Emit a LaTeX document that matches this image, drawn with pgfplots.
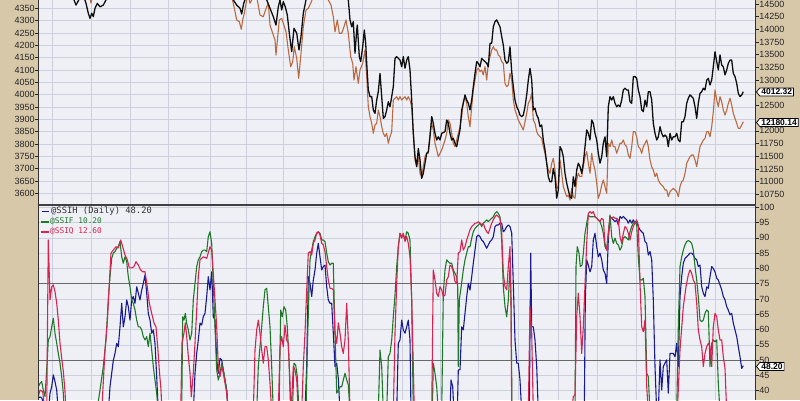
\documentclass[border=0pt]{standalone}
\usepackage{pgfplots}
\pgfplotsset{compat=1.18}
\usepackage{fontspec}
\setmainfont{Liberation Sans}
\newfontfamily\legmono{DejaVu Sans Mono}
\usetikzlibrary{shapes.symbols}
\definecolor{tanbg}{RGB}{216,200,170}
\definecolor{plotbg}{RGB}{238,240,246}
\definecolor{gridc}{RGB}{204,208,220}
\definecolor{darkgrid}{RGB}{105,105,105}
\definecolor{brownl}{RGB}{186,106,66}
\definecolor{blackl}{RGB}{15,15,15}
\definecolor{bluel}{RGB}{25,25,145}
\definecolor{greenl}{RGB}{30,120,40}
\definecolor{redl}{RGB}{214,35,80}
\pgfplotsset{
  base/.style={
    scale only axis, anchor=south west,
    xmin=38.5, xmax=755.5,
    axis line style={draw=none},
    xtick={52,91,130,168,210,246,283,323,362,402,440,478,518,558,597,636,675,715},
    xticklabels={}, xtick style={draw=none},
    scaled y ticks=false,
    tick align=outside, major tick length=3pt,
    ytick style={draw=black!85, line width=0.6pt},
    /pgf/number format/assume math mode=true,
    /pgf/number format/1000 sep={},
    yticklabel style={font=\fontsize{9}{10}\selectfont, text=black!85, inner sep=0.6pt},
    grid style={draw=gridc, line width=0.6pt},
    no markers,
    every axis plot/.append style={line join=round},
  },
}
\tikzset{
  tag/.style={signal, signal to=west, signal pointer angle=100, draw=black, line width=0.7pt,
    fill=white, inner xsep=1.5pt, inner ysep=1pt, font=\bfseries\fontsize{8.5}{9}\selectfont},
}
\begin{document}
\begin{tikzpicture}
\useasboundingbox (0pt,0pt) rectangle (800pt,400pt);
\fill[tanbg] (0pt,0pt) rectangle (800pt,400pt);

% ---------- top panel: grid and left scale ----------
\begin{axis}[base, at={(38.5pt,195pt)}, width=717pt, height=205pt,
  ymin=3552.6, ymax=4383.6, ytick={3600,3650,...,4350}, ytick pos=left, yticklabel pos=left,
  xmajorgrids, ymajorgrids, axis background/.style={fill=plotbg}]
\addplot[draw=none] coordinates {(38.5,3600)};
\end{axis}

% ---------- top panel: brown series (right scale) ----------
\begin{axis}[base, at={(38.5pt,195pt)}, width=717pt, height=205pt,
  ymin=10539, ymax=14578.8,
  ytick={10750,11000,11250,11500,11750,12000,12500,13000,13250,13500,13750,14000,14250,14500},
  ytick pos=right, yticklabel pos=right]
\addplot[brownl, line width=1.1pt] coordinates {
(38.5,14700) (89,14700) (91,14520) (93,14700) (231,14700) (233.3,14514) (236.7,14185) (239.3,14151) (241.3,14001) (242.7,14185) (244.3,14317) (246.7,14579) (248,14700) (249,14600) (250,14514) (251.7,14579) (253,14700) (256,14700) (257.3,14579) (260,14283) (263.3,14250) (266.7,14447) (268.3,14514) (270,14086) (272.7,13923) (275,13791) (276,13495) (277.7,13856) (279.3,14185) (281.7,14218) (283.3,14120) (286,13954) (288.3,13594) (290.7,13264) (292.7,13363) (294.3,13659) (296.7,13430) (298.7,13036) (301,13528) (303.3,14053) (306,14382) (308.3,14415) (310.7,14514) (312,14579) (314,14700) (326,14700) (328.3,14579) (331,14480) (333.3,14250) (335,13954) (337.3,14185) (339.3,13923) (341.7,13923) (344,14053) (346,14185) (348.3,13923) (350.7,13462) (352.7,13331) (354,13002) (356,13264) (358.3,12937) (360,13199) (362.7,13331) (365,13594) (366.7,13067) (368.3,12476) (370,12279) (371.7,12149) (373.3,11952) (375,12116) (376.7,12149) (378.3,12411) (380,12279) (381.7,12082) (383.3,11952) (385,11885) (386.7,11952) (388.3,11755) (390,11885) (391.7,11984) (393.3,12608) (395,12642) (396.7,12673) (398.3,12608) (400,12673) (401.7,12608) (403.3,12642) (405,12673) (406.7,12608) (408.3,12673) (410,12608) (411.7,12476) (413.3,11952) (415,11426) (416.7,11294) (418.3,11491) (420,11164) (421.7,11097) (423.3,11294) (425,11491) (426.7,11558) (428.3,11558) (430,11952) (431.7,12149) (433.3,12017) (435,11755) (436.7,11623) (438.3,11491) (440,11558) (441.7,11623) (445,11820) (446.7,11952) (448.3,12214) (450,12149) (451.7,11952) (453.3,11755) (455,11688) (456.7,11820) (458.3,11952) (460,12082) (461.7,12279) (463.3,12575) (465,12673) (466.7,12543) (468.3,12279) (470,12082) (471.7,12476) (473.3,12805) (475,13002) (476.7,13199) (478.3,13233) (480,13166) (481.7,13199) (483.3,13101) (485,13264) (486.7,13002) (488.3,13331) (490,13462) (491.7,13594) (493.3,13659) (495,13594) (496.7,13594) (498.3,13495) (500,13462) (501.7,13363) (503.3,13331) (505,12937) (506.7,12871) (508.3,12904) (510,13134) (511.7,13002) (513.3,12608) (515,12411) (516.7,12313) (518.3,12214) (520,12149) (521.7,12082) (523.3,12017) (525,12181) (526.7,12346) (528.3,12543) (530,12608) (531.7,12740) (533.3,12214) (535,12149) (536.7,11984) (538.3,11919) (540,11885) (541.7,11854) (543.3,11688) (545,11558) (546.7,11361) (548.3,11229) (550,11164) (551.7,11361) (553.3,11459) (555,11229) (556.7,10868) (558.3,10900) (560,11426) (561.7,11164) (563.3,10900) (565,10801) (566.7,10703) (568.3,10736) (570,10638) (571.7,10868) (573.3,10703) (575,10671) (576.7,11032) (578.3,11164) (580,11097) (581.7,11097) (583.3,11294) (585,11491) (586.7,11590) (588.3,11361) (590,11164) (591.7,11558) (593.3,11361) (595,11229) (596.7,10967) (598.3,10671) (600,10770) (601.7,10933) (603.3,11032) (605,10900) (606.7,10770) (608.3,11755) (610,11688) (611.7,11820) (613.3,11688) (615,11688) (616.7,11558) (618.3,11656) (620,11755) (621.7,11755) (623.3,11820) (625,11722) (626.7,11688) (628.3,11524) (630,11459) (631.7,11688) (633.3,11984) (635,11984) (636.7,11885) (638.3,11688) (640,11656) (641.7,11558) (643.3,11688) (645,11755) (646.7,11820) (648.3,11688) (650,11426) (651.7,11294) (653.3,11229) (655,11097) (656.7,11164) (658.3,11032) (660,10967) (661.7,10933) (663.3,10900) (665,10835) (666.7,10835) (668.3,10703) (670,10801) (671.7,10835) (673.3,10868) (675,10835) (676.7,10801) (678.3,10703) (680,10900) (681.7,10999) (683.3,11032) (685,11164) (686.7,11361) (688.3,11426) (690,11491) (691.7,11524) (693.3,11524) (695,11426) (696.7,11294) (698.3,11491) (700,11688) (701.7,11755) (703.3,11820) (705,11854) (706.7,11984) (708.3,11984) (710,11885) (711.7,12082) (713.3,12378) (715,12805) (716.7,12608) (718.3,12476) (720,12673) (721.7,12575) (723.3,12411) (725,12313) (726.7,12411) (728.3,12543) (730,12642) (731.7,12510) (733.3,12346) (735,12247) (736.7,12149) (738.3,12050) (740,12050) (741.7,12116) (743.3,12180)
};
\end{axis}

% ---------- top panel: black series (left scale) ----------
\begin{axis}[base, at={(38.5pt,195pt)}, width=717pt, height=205pt,
  ymin=3552.6, ymax=4383.6, ytick=\empty]
\addplot[blackl, line width=1.3pt] coordinates {
(38.5,4420) (72,4420) (74,4384) (76,4363) (78,4378) (80,4395) (84,4395) (86,4370) (88.3,4330) (90,4309) (91.7,4330) (93.3,4316) (95,4350) (97.3,4370) (100,4356) (103.3,4363) (106,4384) (108,4420) (231,4420) (233.3,4384) (236.7,4363) (240,4350) (241.7,4327) (243.7,4370) (245,4384) (247,4420) (265,4420) (266.7,4384) (270,4350) (273.3,4316) (276,4282) (278.3,4356) (280,4384) (281.7,4343) (283.3,4377) (285.3,4356) (287.3,4323) (289.3,4249) (291.7,4174) (294,4269) (296.7,4249) (299,4181) (301,4235) (303.3,4330) (306,4384) (308,4420) (346,4420) (348.3,4384) (350,4303) (351.7,4275) (353.3,4296) (355,4168) (356.7,4262) (357.3,4282) (359.3,4154) (360.7,4134) (362.7,4194) (364.3,4262) (365.7,4208) (366.7,4127) (368.3,4019) (370,3992) (371.7,3992) (373.3,3938) (375,3924) (376.7,3978) (378.3,4012) (380,4086) (381.7,3992) (383.3,3904) (385,3911) (386.7,3938) (388.3,3971) (390,3951) (391.7,3992) (393.3,4032) (395,4147) (396.7,4154) (400,4140) (401.7,4113) (403.3,4154) (405,4107) (406.7,4140) (408.3,4154) (410,4100) (411.7,3978) (413.3,3843) (415,3748) (416.7,3708) (418.3,3782) (420,3735) (421.7,3661) (423.3,3681) (425,3722) (426.7,3762) (428.3,3769) (430,3829) (431.7,3911) (433.3,3884) (435,3843) (436.7,3816) (438.3,3829) (440,3816) (441.7,3843) (445,3850) (446.7,3897) (448.3,3884) (450,3843) (451.7,3816) (453.3,3823) (455,3803) (456.7,3789) (458.3,3823) (460,3857) (461.7,3938) (463.3,3965) (465,3999) (466.7,3978) (468.3,3965) (470,3938) (471.7,3978) (473.3,4032) (475,4086) (476.7,4134) (478.3,4127) (480,4113) (481.7,4147) (483.3,4140) (485,4134) (486.7,4127) (488.3,4113) (490,4208) (491.7,4208) (493.3,4275) (495,4296) (496.7,4303) (498.3,4289) (500,4275) (501.7,4235) (503.3,4201) (505,4140) (506.7,4127) (508.3,4134) (510,4194) (511.7,4093) (513.3,4032) (515,3978) (516.7,3951) (518.3,3938) (520,3917) (521.7,3911) (523.3,3917) (525,3951) (526.7,3999) (528.3,4059) (530,4107) (531.7,4059) (533.3,3938) (535,3945) (536.7,3917) (538.3,3904) (540,3870) (541.7,3877) (543.3,3816) (545,3776) (546.7,3722) (548.3,3667) (550,3647) (551.7,3647) (553.3,3701) (555,3667) (556.7,3580) (558.3,3613) (560,3789) (561.7,3776) (563.3,3748) (565,3681) (566.7,3641) (568.3,3613) (570,3586) (571.7,3580) (573.3,3667) (575,3627) (576.7,3694) (578.3,3722) (580,3708) (581.7,3681) (583.3,3722) (585,3789) (586.7,3857) (588.3,3843) (590,3816) (591.7,3897) (593.3,3884) (595,3843) (596.7,3816) (598.3,3762) (600,3722) (601.7,3748) (603.3,3803) (605,3829) (606.7,3748) (608.3,3951) (610,3992) (611.7,3978) (613.3,3992) (615,3965) (616.7,3951) (618.3,3958) (620,3951) (621.7,3978) (623.3,4019) (625,4026) (626.7,4019) (628.3,4019) (630,3971) (631.7,3965) (633.3,4073) (635,4073) (636.7,4066) (638.3,4019) (640,3992) (641.7,3938) (643.3,3931) (645,3978) (646.7,3951) (648.3,4012) (650,4012) (651.7,3978) (653.3,3884) (655,3843) (656.7,3816) (658.3,3829) (660,3870) (661.7,3843) (663.3,3829) (665,3836) (666.7,3829) (668.3,3789) (670,3843) (671.7,3816) (673.3,3829) (675,3829) (676.7,3843) (678.3,3816) (680,3809) (681.7,3890) (683.3,3890) (685,3911) (686.7,3965) (688.3,3985) (690,3999) (691.7,3992) (693.3,3985) (695,3951) (696.7,3904) (698.3,3965) (700,4005) (701.7,4012) (703.3,4026) (705,4019) (706.7,4059) (708.3,4066) (710,4039) (711.7,4059) (713.3,4113) (715,4174) (716.7,4134) (718.3,4100) (720,4161) (721.7,4120) (723.3,4113) (725,4080) (726.7,4100) (728.3,4127) (730,4140) (731.7,4140) (733.3,4086) (735,4073) (736.7,4046) (738.3,4005) (740,3992) (741.7,3999) (743.3,4012)
};
\end{axis}

% ---------- bottom panel ----------
\begin{axis}[base, at={(38.5pt,0pt)}, width=717pt, height=195pt,
  ymin=36.96, ymax=100.75, ytick={40,45,...,100}, ytick pos=right, yticklabel pos=right,
  xmajorgrids, ymajorgrids, axis background/.style={fill=plotbg}]
\draw[darkgrid, line width=0.9pt] (axis cs:38.5,50) -- (axis cs:755.5,50);
\draw[darkgrid, line width=0.9pt] (axis cs:38.5,75) -- (axis cs:755.5,75);
\addplot[bluel, line width=1.1pt] coordinates {
(38.3,37.5) (40,38) (42,37.5) (45,33) (48.5,33) (50,39.2) (51.7,41.3) (53.3,45.2) (55,43) (56.7,40.2) (58.3,33) (108.3,33) (110,41.3) (111.7,45.7) (113.3,49.9) (115,52.2) (116.7,55.5) (118.3,54.4) (120,60.9) (121.7,68.6) (123.3,60.9) (125,64.2) (126.7,69.7) (128.3,67.5) (130,63.1) (131.7,69.7) (133.3,70.8) (135,68.6) (136.7,74) (138.3,71.9) (140,69.7) (141.7,72.9) (143.3,75.1) (145,77.9) (146.7,71.9) (148.3,65.3) (150,63.1) (151.7,58.8) (153.3,59.9) (155,55.5) (156.7,44.6) (158.3,33) (193.3,33) (195,45.7) (196.7,52.2) (198.3,56.6) (200,62.1) (201.7,61.5) (203.3,64.2) (205,65.3) (206.7,70.8) (208.3,77.3) (210,73) (211.7,78.9) (213.3,64.2) (215,63.1) (216.7,50.1) (218.3,45.7) (220,50.6) (221.7,50.1) (223.3,46.8) (225,43.5) (226.7,40.2) (228.3,33) (305,33) (306.7,47.9) (308.3,77.3) (310,75.1) (311.7,70.8) (313.3,76.2) (315,79.5) (316.7,85) (318.3,88.2) (320,83.8) (321.7,79.5) (323.3,80.6) (325,81.1) (326.7,74) (328.3,69.7) (330,68.6) (331.7,68.6) (333.3,58.8) (335,47.9) (336.7,49) (338.3,44) (340,33) (396.7,33) (398.3,55.5) (400,56.6) (401.7,63.1) (403.3,59.9) (405,58.8) (406.7,60.9) (408.3,63.1) (410,56.6) (411,33) (450,33) (451,43.5) (452.7,41.3) (454,33) (457.3,33) (458.3,46.8) (460,46.8) (461.7,60.9) (463.3,59.9) (465,65.3) (466.7,70.8) (468.3,75.1) (470,72.9) (471.7,77.3) (473.3,81.7) (475,86) (476.7,90.4) (478.3,90.9) (480,90.4) (481.7,89.3) (483.3,88.8) (485,87.7) (486.7,86.6) (488.3,87.7) (490,88.8) (491.7,89.3) (493.3,90.4) (495,93.7) (496.7,94.2) (498.3,94.2) (500,94.8) (501.7,94.8) (503.3,92) (505,92.6) (506.7,93.7) (508.3,94.2) (510,93.7) (511.7,91.5) (513.3,75.1) (515,56.6) (516.7,49) (518.3,49) (520,43.5) (521.7,33) (529.3,33) (530.7,85) (531.7,60.9) (533.3,60.9) (535,56.6) (536.7,47.9) (538.3,33) (584.3,33) (585.3,69.7) (586.7,82.8) (588.3,81.1) (590,78.9) (591.7,80.6) (593.3,89.3) (595,91.5) (596.7,87.1) (598.3,83.8) (600,85) (601.7,82.8) (603.3,79.5) (605,78.4) (606.7,75.1) (608.3,89.3) (610,97) (611.7,96.4) (613.3,95.9) (615,95.3) (616.7,95.9) (618.3,94.2) (620,97) (621.7,96.4) (623.3,97) (625,96.4) (626.7,95.9) (628.3,94.8) (630,95.9) (631.7,94.8) (633.3,95.9) (635,94.8) (636.7,95.3) (638.3,93.7) (640,92.6) (641.7,92) (643.3,91.5) (645,88.8) (646.7,88.2) (648.3,84.4) (650,85.5) (651.7,82.8) (653.3,69.7) (655,47.9) (656.7,33) (658.3,33) (660,50.1) (661.7,40.2) (663.3,47.9) (665,49) (666.7,50.1) (668.3,39.2) (670,52.2) (671.7,52.2) (673.3,52.2) (675,51.1) (676.7,55.5) (678.3,47.9) (680,70.8) (681.7,77.3) (683.3,81.7) (685,83.3) (686.7,83.8) (688.3,84.4) (690,85) (691.7,85) (693.3,84.4) (695,83.3) (696.7,82.8) (698.3,80.6) (700,81.1) (701.7,74) (703.3,71.9) (705,70.8) (706.7,74) (708.3,73.5) (710,77.3) (711.7,80.6) (713.3,80) (715,78.9) (716.7,76.8) (718.3,76.2) (720,74.6) (721.7,73) (723.3,70.8) (725,69.7) (726.7,67.5) (728.3,66.4) (730,64.8) (731.7,65.3) (733.3,62.1) (735,59.9) (736.7,57.7) (738.3,54.4) (740,51.1) (741.7,47.3) (743.3,48.2)
};
\addplot[greenl, line width=1.1pt] coordinates {
(38.3,41.3) (40,42.4) (41.7,43) (43.3,40.2) (45,38.1) (47.3,50.1) (48.3,56.6) (50,57.7) (51.7,60.9) (53.3,63.7) (55,58.8) (56.7,55.5) (58.3,52.2) (60,49) (61.7,44.6) (63.3,39.2) (64.3,33) (96.7,33) (100,40.2) (103.3,47.9) (106,56.6) (108.3,69.7) (110,77.3) (111.7,83.3) (113.3,85) (115,85.5) (116.7,86.6) (118.3,87.1) (120,88.8) (121.7,83.8) (123.3,81.7) (125,83.8) (126.7,82.2) (128.3,77.3) (130,74) (131.7,69.7) (133.3,68.6) (135,66.4) (136.7,63.1) (138.3,60.9) (140,60.9) (141.7,59.9) (143.3,57.7) (145,56.6) (146.7,57.7) (148.3,54.4) (150,58.8) (151.7,53.3) (153.3,47.9) (155,43.5) (156.7,39.2) (158.3,33) (181.7,33) (182.7,64.2) (184,63.1) (185.3,65.3) (186.7,62) (188.3,59.9) (190,56.6) (191.7,58.8) (193.3,69.7) (195,75.1) (196.7,80.6) (198.3,82.8) (200,83.8) (201.7,85.5) (203.3,86) (205,86) (206.7,85.5) (208.3,90.4) (210,92) (211.7,88.2) (213.3,75.1) (215,60.9) (216.7,46.8) (218.3,43.5) (220,45.7) (221.7,49) (223.3,46.8) (225,43.5) (226.7,40.2) (228.3,33) (256.7,33) (258.3,47.9) (260,54.4) (261.7,60.9) (263.3,67.5) (265,73) (266.7,73.5) (268.3,67.5) (270,60.9) (271.7,47.9) (273.3,33) (279,33) (280.7,66.4) (282.3,64.2) (284,67.5) (285.7,66.4) (287.3,60.9) (289,50.1) (290.7,33) (292.7,36) (294,49) (295.7,48.4) (297.3,44.6) (299,33) (306,33) (307.3,53.3) (308.7,69.7) (310,82.8) (311.7,86) (313.3,88.8) (315,90.4) (316.7,91.5) (318.3,92) (320,91.5) (321.7,89.3) (323.3,89.3) (325,88.8) (326.7,85) (328.3,82.2) (330,81.1) (331.7,81.7) (333.3,81.7) (335,58.8) (336.7,39.2) (338.3,40.2) (340,41.3) (341.7,41.3) (343.3,43.5) (345,45.7) (346.7,43.5) (348.3,41.9) (350,33) (378.3,33) (380,53.3) (381.7,47.9) (383.3,33) (386.7,33) (388.3,51.1) (390,52.2) (391.7,56.6) (393.3,64.2) (395,71.3) (396.7,80.6) (398.3,87.1) (400,91.5) (401.7,90.4) (403.3,90.9) (405,89.3) (406.7,92) (408.3,91.5) (410,89.3) (411.7,69.7) (413.3,33) (432.3,33) (433.3,49) (435,45.7) (436.7,41.3) (438.3,33) (441.7,33) (443.3,71.9) (445,79.5) (446.7,82.8) (448.3,82.2) (450,81.7) (451.7,81.7) (453.3,79.5) (455,78.4) (456.7,77.3) (457.7,74) (458.3,47.9) (459.3,69.7) (460.7,72.9) (462,76.2) (463.3,79.5) (465,82.8) (466.7,85) (468.3,87.1) (470,87.1) (471.7,89.9) (473.3,92) (475,93.1) (476.7,93.7) (478.3,94.2) (480,94.8) (481.7,93.7) (483.3,94.8) (485,95.3) (486.7,95.9) (488.3,95.3) (490,95.9) (491.7,96.4) (493.3,96.9) (495,98) (496.7,98.6) (498.3,98) (500,96.9) (501.7,89.3) (503.3,74) (505,67.5) (506.7,64.2) (508.3,69.7) (510,80.6) (511,69.7) (512,33) (575,33) (576,80.6) (577.3,87.1) (579,84.9) (580.3,80.6) (582,81.1) (583.3,84.9) (585,91.5) (586.7,94.8) (588.3,97.4) (590,96.9) (591.7,96.9) (593.3,96.9) (595,96.9) (596.7,96.4) (598.3,95.9) (600,95.3) (601.7,93.7) (603.3,91.5) (605,87.1) (606.7,86) (608.3,91.5) (610,97.5) (611.7,90.4) (613.3,88.2) (615,89.9) (616.7,88.2) (618.3,87.7) (620,86) (621.7,87.1) (623.3,89.9) (625,90.4) (626.7,89.9) (628.3,89.3) (630,92) (631.7,93.7) (633.3,94.8) (635,95.3) (636.7,94.2) (638.3,83.8) (640,76.2) (641.7,76.2) (643.3,76.8) (645,70.8) (646.7,45.7) (648.3,44.6) (650,33) (676.7,33) (678.3,60.9) (680,80.6) (681.7,83.8) (683.3,86) (685,87.7) (686.7,88.8) (688.3,89.1) (690,88.8) (691.7,88.2) (693.3,86) (695,80.6) (696.7,76.2) (698.3,70.8) (700,63.1) (701.7,62.6) (703.3,63.1) (705,65.3) (706.7,66.4) (708.3,65.9) (710,47.9) (711.7,55.5) (713.3,56.6) (715,56) (716.7,56.6) (718.3,42.4) (720,33) (743.3,10.2)
};
\addplot[redl, line width=1.1pt] coordinates {
(38.3,38.1) (40,40.2) (42.7,39.7) (45,33) (46.7,33) (48.3,89.3) (50,69.7) (51.7,74) (53.3,74.6) (55,72.4) (56.7,68.7) (58.3,63.1) (60,55.6) (61.7,50.6) (63.3,46.4) (65,39.8) (66,33) (101.7,33) (105,53.3) (107.3,62.4) (109.3,75.1) (111,85) (113.3,86) (116,87.1) (118.3,86.7) (120.7,89.3) (122.7,87.1) (125,84.4) (127.3,82.8) (129.3,80.2) (131.7,80.2) (134,80.6) (136,82.2) (138.3,81.1) (140.7,79.5) (142.7,78.9) (145,78.9) (147.3,74) (149.3,68.7) (151.7,65.3) (154,62.2) (156,60.9) (157.7,54.4) (159.3,46.8) (161,40.2) (162,33) (180.7,33) (182,55.6) (184,58.9) (185.3,62.2) (186.7,57.8) (188.3,51.2) (190,45.8) (191.3,38) (193.3,45.8) (195,55.6) (196.7,66.4) (198.3,77.3) (200,82.8) (203.3,83.8) (206.7,83.3) (210,87.1) (211.7,86) (213.3,78.4) (215,69.7) (216.7,60.9) (218.3,47.9) (220,44.6) (221.7,47.9) (223.3,45.7) (225,42.5) (226.7,39.2) (228.3,33) (253.3,33) (255,53.3) (256.7,59.9) (258.3,63.1) (260,58.9) (261.7,53.3) (263.3,49) (265,54.4) (266.7,54.4) (268.3,50.1) (270,42.5) (271.7,33) (278.3,33) (280,54.4) (281.7,57.7) (283.3,54.4) (285,61.5) (286.7,56.6) (288.3,55.5) (290,42.5) (291,33) (291.5,36) (293.3,47.9) (295,46.8) (296.7,43.5) (298.3,33) (301.7,33) (303.3,48) (305,58.8) (306.7,72.9) (308.3,85) (310,85.5) (311.7,84.4) (313.3,88.2) (315,89.3) (316.7,91.5) (318.3,92) (320,90.9) (321.7,88.2) (323.3,87.7) (325,85.5) (326.7,80.6) (328.3,76.2) (330,73.5) (331.7,73.5) (333.3,73) (335,58.8) (336.7,55.5) (338.3,62.2) (340,58.8) (341.7,54.4) (343.3,52.2) (345,56.6) (346.7,68.6) (348.3,56.6) (350,33) (393.3,33) (395,58.8) (396.7,75.1) (398.3,87.1) (400,91.5) (401.7,89.9) (403.3,91.5) (405,88.8) (406.7,90.4) (408.3,88.2) (410,83.8) (411.7,69.7) (413.3,47.9) (414.3,33) (431.7,33) (433.3,79.5) (435,76.2) (436.7,71.9) (438.3,70.8) (440,74) (441.7,73) (443.3,70.8) (445,71.3) (446.7,76.2) (448.3,77.3) (450,81.1) (451.7,80.6) (453.3,78.9) (455,75.7) (456.7,75.1) (458.3,85) (460,85.5) (461.7,89.3) (463.3,86) (465,87.1) (466.7,89.3) (468.3,90.9) (470,92.6) (471.7,93.7) (473.3,94.2) (475,94.8) (476.7,94.8) (478.3,95.3) (480,94.8) (481.7,94.2) (483.3,94.8) (485,93.1) (486.7,92) (488.3,91.5) (490,93.1) (491.7,94.8) (493.3,95.9) (495,96.9) (496.7,97.5) (498.3,96.9) (500,96.4) (501.7,91.5) (503.3,78.4) (505,74) (506.7,73) (508.3,80.6) (510,87.1) (511,69.7) (511.7,33) (528.3,33) (530,67.5) (531.7,58.8) (533.3,33) (571.7,33) (573.3,38.1) (575,38.5) (576.7,64.2) (578.3,71.9) (580,64.2) (581.7,52.2) (583.3,60.9) (585,74.6) (586.7,88.2) (588.3,98) (590,98.6) (591.7,98) (593.3,98.6) (595,96.9) (596.7,96.4) (598.3,95.9) (600,95.3) (601.7,96.4) (603.3,95.9) (605,88.2) (606.7,86) (608.3,91.5) (610,96.4) (611.7,96.4) (613.3,96.9) (615,96.4) (616.7,96.4) (618.3,95.9) (620,90.4) (621.7,88.2) (623.3,91.5) (625,93.7) (626.7,93.1) (628.3,91.5) (630,89.3) (631.7,92) (633.3,93.7) (635,94.8) (636.7,95.9) (638.3,94.2) (640,75.1) (641.7,60.9) (643.3,59.3) (645,63.1) (646.7,41.3) (648.3,33) (677.3,33) (680,53.3) (683.3,67.5) (686,74) (688.3,77.9) (690,79.5) (691.7,78.4) (693.3,76.2) (695,75.1) (696.7,68.6) (698.3,59.9) (700,56.6) (701.7,54.4) (703.3,47.9) (705,52.2) (706.7,54.4) (708.3,55.5) (710,54.4) (711.7,47.9) (713.3,60.9) (715,65.3) (716.7,64.2) (718.3,59.9) (720,56.6) (721.7,56.6) (723.3,51.1) (725,47.3) (726.7,33) (743.3,12.6)
};
\end{axis}

% frame lines
\draw[black!80, line width=0.9pt] (38.5pt,0pt) -- (38.5pt,400pt);
\draw[black!80, line width=0.9pt] (755.5pt,0pt) -- (755.5pt,400pt);
\draw[black!75, line width=1.2pt] (38.5pt,195pt) -- (755.5pt,195pt);

% legend of the lower panel
\draw[bluel, line width=1.6pt] (41.5pt,188.5pt) -- (48.5pt,188.5pt);
\node[anchor=west, inner sep=0pt, text=black!80, font=\legmono\fontsize{8.8}{9}\selectfont] at (51pt,188.5pt) {@SSIH (Daily) 48.20};
\draw[greenl, line width=1.6pt] (40.5pt,178.3pt) -- (49pt,178.3pt);
\node[anchor=west, inner sep=0pt, text=greenl, font=\legmono\fontsize{7.8}{8}\selectfont] at (50pt,178.3pt) {@SSIF 10.20};
\draw[redl, line width=1.6pt] (40.5pt,168.3pt) -- (49pt,168.3pt);
\node[anchor=west, inner sep=0pt, text=redl, font=\legmono\fontsize{7.8}{8}\selectfont] at (50pt,168.3pt) {@SSIQ 12.60};

% last-value tags
\node[tag, anchor=west] at (756pt,308pt) {4012.32};
\node[tag, anchor=west] at (756pt,277.5pt) {12180.14};
\node[tag, anchor=west] at (756pt,33.5pt) {48.20};
\end{tikzpicture}
\end{document}
